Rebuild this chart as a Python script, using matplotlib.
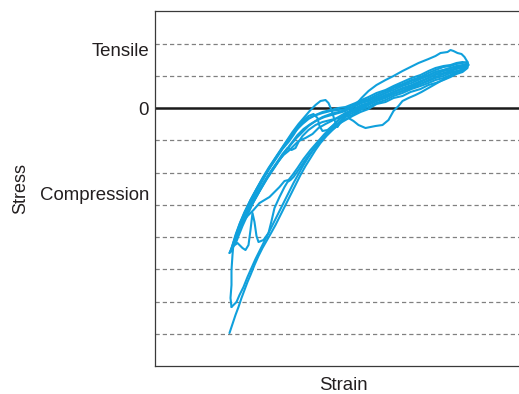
import matplotlib.pyplot as plt

# stress-strain trace, arbitrary units
# strain: 0 at the stress axis; stress: 0 at the zero line, one grid step = 32.25

c1_load_strain = [74, 77, 80, 83, 86, 89, 92, 95, 99, 103, 107, 111, 115, 120, 125, 130, 135, 140, 145, 150,
                  155, 160, 165, 171, 177, 183, 190, 197, 205, 213, 221, 230, 238, 247, 255, 265, 273, 280, 288, 295,
                  301, 307, 312]
c1_load_stress = [-225, -216, -207, -199, -190, -182, -174, -167, -157, -148, -140, -133, -126, -117, -107, -97, -87, -77, -67, -58,
                  -50, -42, -35, -28, -22, -16, -12, -8, -4, -1, 4, 6, 10, 12, 16, 19, 23, 25, 28, 31,
                  34, 36, 40]

c1_unload_strain = [312, 307, 301, 295, 288, 280, 273, 265, 256, 247, 238, 230, 221, 213, 206, 200, 195, 190, 183, 175,
                    167, 160, 153, 147, 141, 135, 129, 122, 115, 108, 101, 95, 89, 84, 80, 77, 75]
c1_unload_stress = [45, 46, 45, 43, 42, 40, 37, 33, 30, 26, 22, 18, 15, 11, 8, 5, 3, 1, 0, -2,
                    -4, -7, -11, -16, -22, -29, -37, -47, -58, -69, -81, -92, -104, -116, -127, -137, -144]

c2_load_strain = [75, 79, 83, 88, 93, 99, 105, 111, 117, 123, 129, 135, 141, 147, 153, 160, 167, 175, 183, 190,
                  197, 205, 213, 221, 230, 238, 247, 256, 265, 273, 280, 288, 295, 301, 307, 312]
c2_load_stress = [-144, -134, -124, -113, -103, -92, -81, -71, -62, -53, -45, -37, -30, -24, -18, -13, -9, -6, -4, -2,
                  1, 5, 8, 11, 15, 20, 23, 27, 30, 33, 36, 38, 40, 42, 43, 44]

c2_unload_strain = [312, 307, 301, 295, 288, 280, 273, 265, 256, 247, 238, 230, 221, 213, 206, 200, 195, 190, 185, 182,
                    179, 176, 173, 170, 165, 160, 155, 149, 143, 137, 131, 125, 119, 113, 107, 101, 95, 90, 85, 81,
                    78, 77, 76, 76, 75, 76]
c2_unload_stress = [42, 38, 37, 36, 34, 31, 28, 24, 20, 17, 14, 11, 7, 4, 1, -2, -4, -7, -14, -19,
                    -12, -2, 5, 8, 7, 3, -2, -9, -16, -24, -33, -42, -51, -60, -70, -81, -92, -103, -114, -125,
                    -135, -147, -162, -177, -190, -199]

c3_load_strain = [76, 78, 81, 84, 88, 92, 96, 100, 104, 108, 113, 118, 123, 128, 133, 138, 143, 148, 153, 159,
                  165, 171, 177, 184, 190, 197, 205, 213, 221, 230, 238, 247, 256, 265, 273, 280, 288, 295, 301, 307,
                  312]
c3_load_stress = [-199, -197, -194, -187, -179, -169, -160, -151, -143, -135, -125, -115, -105, -95, -85, -75, -66, -57, -49, -40,
                  -33, -26, -20, -14, -9, -7, -2, 1, 5, 8, 12, 15, 19, 22, 25, 28, 30, 33, 36, 38,
                  41]

c3_unload_strain = [312, 307, 301, 295, 288, 280, 273, 265, 256, 247, 238, 230, 221, 213, 206, 200, 195, 190, 183, 176,
                    170, 163, 157, 150, 143, 138, 133, 128, 123, 117, 111, 105, 99, 93, 88, 83, 79, 76, 74]
c3_unload_stress = [44, 41, 40, 38, 37, 34, 30, 27, 23, 20, 16, 13, 9, 5, 3, 0, -3, -5, -9, -13,
                    -16, -20, -26, -30, -33, -38, -43, -47, -53, -61, -70, -80, -90, -101, -112, -123, -132, -140, -145]

c4_load_strain = [74, 78, 82, 87, 90, 93, 95, 97, 99, 101, 103, 108, 113, 116, 119, 124, 129, 132, 135, 138,
                  143, 149, 155, 161, 168, 175, 182, 188, 193, 198, 203, 210, 220, 227, 233, 238, 243, 247, 253, 260,
                  266, 273, 280, 287, 293, 300, 305, 310, 313]
c4_load_stress = [-145, -138, -135, -140, -142, -137, -122, -105, -114, -128, -134, -132, -125, -113, -100, -89, -79, -74, -72, -69,
                  -62, -53, -45, -38, -30, -23, -18, -12, -10, -13, -17, -20, -18, -17, -12, -3, 2, 7, 10, 13,
                  16, 20, 24, 28, 31, 35, 38, 40, 43]

c4_unload_strain = [313, 312, 309, 306, 302, 298, 295, 292, 285, 280, 273, 263, 255, 247, 238, 230, 221, 213, 206, 200,
                    194, 188, 182, 176, 169, 162, 155, 148, 142, 137, 133, 129, 124, 121, 114, 104, 98, 92, 88, 85,
                    82, 79, 76]
c4_unload_stress = [43, 46, 51, 54, 55, 57, 58, 56, 55, 52, 49, 45, 41, 37, 32, 28, 23, 17, 10, 3,
                    -3, -8, -13, -19, -26, -34, -42, -51, -60, -67, -72, -73, -79, -82, -89, -95, -102, -108, -113, -120,
                    -128, -136, -143]

c5_load_strain = [76, 79, 83, 87, 92, 97, 103, 109, 115, 121, 127, 133, 138, 143, 148, 153, 158, 162, 164, 167,
                  172, 178, 184, 190, 197, 205, 213, 221, 230, 238, 247, 256, 265, 273, 280, 288, 295, 301, 307, 312]
c5_load_stress = [-143, -133, -123, -113, -102, -91, -80, -69, -59, -50, -41, -34, -27, -19, -12, -8, -6, -10, -18, -23,
                  -22, -17, -11, -5, -3, 2, 5, 9, 12, 16, 19, 22, 26, 30, 33, 35, 37, 39, 40, 42]

c5_unload_strain = [312, 307, 301, 295, 288, 280, 273, 265, 256, 247, 238, 230, 221, 213, 206, 200, 195, 190, 183, 175,
                    167, 158, 151, 145, 139, 133, 127, 121, 115, 109, 103, 97, 92, 87, 83, 80]
c5_unload_stress = [46, 45, 44, 42, 41, 38, 35, 31, 28, 24, 21, 17, 13, 9, 7, 4, 2, -1, -2, -3,
                    -5, -8, -11, -16, -23, -31, -40, -49, -58, -68, -78, -89, -99, -110, -121, -132]

c6_load_strain = [80, 83, 87, 92, 97, 103, 109, 115, 121, 127, 132, 136, 140, 143, 147, 153, 160, 167, 175, 183,
                  190, 197, 205, 213, 221, 230, 238, 247, 256, 265, 273, 280, 288, 295, 301, 307, 312]
c6_load_stress = [-136, -128, -118, -107, -96, -85, -74, -64, -55, -46, -40, -42, -40, -34, -28, -22, -17, -14, -12, -10,
                  -8, -5, -1, 3, 7, 10, 14, 17, 21, 24, 27, 30, 32, 35, 36, 37, 41]

c6_unload_strain = [312, 307, 301, 295, 288, 280, 273, 265, 256, 247, 238, 230, 221, 213, 206, 200, 195, 190, 183, 176,
                    169, 162, 155, 148, 142, 136, 130, 124, 118, 112, 106, 100, 94, 89, 84, 80, 77]
c6_unload_stress = [44, 42, 41, 40, 38, 36, 32, 29, 25, 22, 18, 15, 11, 7, 5, 2, 0, -3, -5, -7,
                    -9, -12, -16, -21, -27, -35, -43, -52, -61, -70, -80, -90, -100, -110, -120, -130, -139]

stress_labels = ['Tensile', '0', 'Compression']
stress_label_values = [59, 0, -85]

grid_step = 32.25
grid_levels = [-7, -6, -5, -4, -3, -2, -1, 1, 2]

branches = [
    (c1_load_strain, c1_load_stress), (c1_unload_strain, c1_unload_stress),
    (c2_load_strain, c2_load_stress), (c2_unload_strain, c2_unload_stress),
    (c3_load_strain, c3_load_stress), (c3_unload_strain, c3_unload_stress),
    (c4_load_strain, c4_load_stress), (c4_unload_strain, c4_unload_stress),
    (c5_load_strain, c5_load_stress), (c5_unload_strain, c5_unload_stress),
    (c6_load_strain, c6_load_stress), (c6_unload_strain, c6_unload_stress),
]

plt.rcParams['font.family'] = ['Liberation Sans', 'DejaVu Sans']
text_color = '#231f20'
line_color = '#10a0dc'

fig = plt.figure(figsize=(5.19, 3.94), dpi=100)
ax = fig.add_axes([0.2996, 0.0718, 0.7004, 0.8995])

for k in grid_levels:
    ax.axhline(k * grid_step, color='#808080', lw=0.9, dashes=(3.4, 2.4), zorder=1)
ax.axhline(0, color='#1a1a1a', lw=1.8, zorder=2)

for strain, stress in branches:
    ax.plot(strain, stress, color=line_color, lw=1.5, solid_joinstyle='round',
            solid_capstyle='round', zorder=3)

ax.set_xlim(0, 363.5)
ax.set_ylim(-257.7, 96.7)

ax.set_xticks([])
ax.set_yticks(stress_label_values, stress_labels)
ax.tick_params(axis='y', length=0, pad=4.5, labelsize=13.4, labelcolor=text_color)

for side in ['left', 'top', 'bottom']:
    ax.spines[side].set_color('#3a3a3a')
    ax.spines[side].set_linewidth(0.9)
ax.spines['right'].set_visible(False)

ax.set_xlabel('Strain', fontsize=13.4, color=text_color)
ax.xaxis.set_label_coords(0.516, -0.057)
ax.xaxis.label.set_va('center')
ax.set_ylabel('Stress', fontsize=13, color=text_color)
ax.yaxis.set_label_coords(-0.37, 0.5)
ax.yaxis.label.set_va('center')

fig.savefig('out.png', dpi=100)
